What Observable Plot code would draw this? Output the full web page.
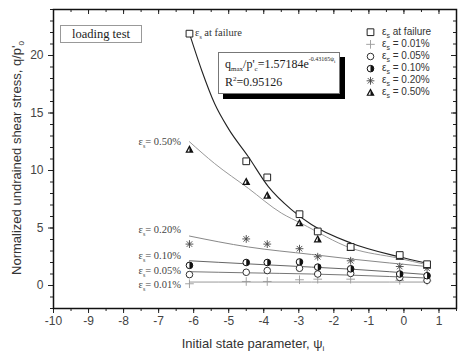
<!DOCTYPE html>
<html><head><meta charset="utf-8">
<script src="https://cdn.jsdelivr.net/npm/d3@7"></script>
<script src="https://cdn.jsdelivr.net/npm/@observablehq/plot@0.6"></script>
<style>
body{margin:0;background:#fff;}
#wrap{position:relative;width:474px;height:358px;overflow:hidden;}
.ov{position:absolute;white-space:nowrap;line-height:1;}
.serif{font-family:"Liberation Serif","Times New Roman",serif;}
.sans{font-family:"Liberation Sans",Arial,sans-serif;}
sub,sup{line-height:0;}
</style></head><body><div id="wrap"></div>
<script>
// ---- data ----
const psi = [-6.12, -4.5, -3.9, -2.98, -2.46, -1.52, -0.12, 0.66];
const failure = [21.9, 10.8, 9.4, 6.2, 4.7, 3.35, 2.65, 1.85];
const e050 = [11.8, 9.0, 7.8, 5.4, 4.0, 3.25, 2.5, 1.75];
const e020 = [3.6, 4.05, 3.6, 3.2, 2.5, 2.15, 1.65, 1.5];
const e010 = [1.75, 2.0, 2.0, 2.05, 1.6, 1.45, 1.0, 0.85];
const e005 = [0.95, 1.15, 1.3, 1.5, 1.0, 1.05, 0.7, 0.45];
const e001 = [0.15, 0.35, 0.35, 0.5, 0.55, 0.55, 0.45, 0.4];

// fitted curves
const fitFailX = [-6.12, -5.77, -5.4, -5.0, -4.44, -3.87, -3.21, -2.64, -1.5, -0.17, 0.66];
const fitFailY = [21.9, 18.7, 15.8, 13.6, 11.2, 8.6, 6.6, 5.3, 3.68, 2.52, 1.94];
const fit050X = [-6.12, -5.4, -4.44, -3.5, -2.93, -1.5, -0.17, 0.66];
const fit050Y = [12.5, 10.6, 8.45, 6.3, 5.4, 3.24, 2.38, 1.8];
const fitLowX = [-6.12, -4.44, -2.64, -1.5, 0.66];
const fit020Y = [4.3, 3.35, 2.7, 2.3, 1.65];
const fit010Y = [2.15, 1.88, 1.6, 1.42, 0.95];
const fit005Y = [1.2, 1.1, 1.0, 0.9, 0.65];
const fit001Y = [0.3, 0.3, 0.3, 0.3, 0.3];

const seriesNames = ["at failure", "= 0.01%", "= 0.05%", "= 0.10%", "= 0.20%", "= 0.50%"];
const curveLabels = ["= 0.50%", "= 0.20%", "= 0.10%", "= 0.05%", "= 0.01%"];
const xTicks = [-10, -9, -8, -7, -6, -5, -4, -3, -2, -1, 0, 1];
const xMinor = d3.range(-10, 1.51, 0.5);
const yTicks = [0, 5, 10, 15, 20];
const yMinor = d3.range(-2, 24.01, 1);

// ---- custom symbols ----
const halfCircle = {draw(ctx, size) { const r = Math.sqrt(size / Math.PI); ctx.moveTo(0, -r); ctx.arc(0, 0, r, -Math.PI / 2, Math.PI / 2); ctx.closePath(); }};
const triFull = {draw(ctx, size) { const r = Math.sqrt(size / Math.PI); const h = 2.3 * r, w = 2.5 * r; ctx.moveTo(0, -h * 0.6); ctx.lineTo(w / 2, h * 0.4); ctx.lineTo(-w / 2, h * 0.4); ctx.closePath(); }};
const triHalf = {draw(ctx, size) { const r = Math.sqrt(size / Math.PI); const h = 2.3 * r, w = 2.5 * r; ctx.moveTo(0, -h * 0.6); ctx.lineTo(w / 2, h * 0.4); ctx.lineTo(0, h * 0.4); ctx.closePath(); }};
const star8 = {draw(ctx, size) { const r = Math.sqrt(size / Math.PI); const d = r * Math.SQRT1_2;
  ctx.moveTo(-r, 0); ctx.lineTo(r, 0); ctx.moveTo(0, -r); ctx.lineTo(0, r);
  ctx.moveTo(-d, -d); ctx.lineTo(d, d); ctx.moveTo(-d, d); ctx.lineTo(d, -d); }};

const rows = (ys) => psi.map((x, i) => ({x, y: ys[i]}));
const fitRows = (xs, ys) => xs.map((x, i) => ({x, y: ys[i]}));

// styles per series (legend order)
const styles = [
  [{symbol: "square", r: 3.8, stroke: "#222", fill: "white", strokeWidth: 1}],
  [{symbol: "plus", r: 2.9, stroke: "#9a9a9a", fill: "none", strokeWidth: 0.9}],
  [{symbol: "circle", r: 3.3, stroke: "#333", fill: "white", strokeWidth: 1}],
  [{symbol: "circle", r: 3.3, stroke: "#111", fill: "white", strokeWidth: 1}, {symbol: halfCircle, r: 3.3, stroke: "none", fill: "#111"}],
  [{symbol: star8, r: 3.9, stroke: "#444", fill: "none", strokeWidth: 0.9}],
  [{symbol: triFull, r: 2.5, stroke: "#111", fill: "white", strokeWidth: 1.2}, {symbol: triHalf, r: 2.5, stroke: "none", fill: "#111"}]
];
const seriesData = [failure, e001, e005, e010, e020, e050];
const fmt = d => String(d);

const marks = [
  // axes
  Plot.axisX({ticks: xTicks, tickSize: 5, tickPadding: 3, tickFormat: fmt, label: null, fill: "#444"}),
  Plot.axisX({ticks: xMinor, tickSize: 3, tickFormat: () => "", label: null}),
  Plot.axisX({anchor: "bottom", frameAnchor: "top", ticks: xTicks, tickSize: 5, tickFormat: () => "", label: null}),
  Plot.axisX({anchor: "bottom", frameAnchor: "top", ticks: xMinor, tickSize: 3, tickFormat: () => "", label: null}),
  Plot.axisY({ticks: yTicks, tickSize: 5, tickPadding: 5, tickFormat: fmt, label: null, fill: "#444"}),
  Plot.axisY({ticks: yMinor, tickSize: 3, tickFormat: () => "", label: null}),
  Plot.axisY({anchor: "left", frameAnchor: "right", ticks: yTicks, tickSize: 5, tickFormat: () => "", label: null}),
  Plot.axisY({anchor: "left", frameAnchor: "right", ticks: yMinor, tickSize: 3, tickFormat: () => "", label: null}),
  // fitted curves
  Plot.line(fitRows(fitLowX, fit001Y), {x: "x", y: "y", stroke: "#999", strokeWidth: 1, curve: "monotone-x"}),
  Plot.line(fitRows(fitLowX, fit005Y), {x: "x", y: "y", stroke: "#777", strokeWidth: 1, curve: "monotone-x"}),
  Plot.line(fitRows(fitLowX, fit010Y), {x: "x", y: "y", stroke: "#666", strokeWidth: 1, curve: "monotone-x"}),
  Plot.line(fitRows(fitLowX, fit020Y), {x: "x", y: "y", stroke: "#888", strokeWidth: 1, curve: "monotone-x"}),
  Plot.line(fitRows(fit050X, fit050Y), {x: "x", y: "y", stroke: "#999", strokeWidth: 1, curve: "monotone-x"}),
  Plot.line(fitRows(fitFailX, fitFailY), {x: "x", y: "y", stroke: "#222", strokeWidth: 1.1, curve: "monotone-x"})
];
// data points (draw low strains first)
[1, 2, 3, 4, 5, 0].forEach(k => {
  styles[k].forEach(s => marks.push(Plot.dot(rows(seriesData[k]), {x: "x", y: "y", ...s})));
});
// legend symbols
styles.forEach((st, i) => st.forEach(s => marks.push(Plot.dot([0], {frameAnchor: "top-right", dx: -86, dy: 22.7 + 12.15 * i, ...s}))));
marks.push(Plot.frame({stroke: "#111", strokeWidth: 1.5}));

const chart = Plot.plot({
  width: 474, height: 358,
  marginLeft: 53, marginRight: 18, marginTop: 9, marginBottom: 50,
  x: {domain: [-10, 1.5]},
  y: {domain: [-2, 24]},
  style: {fontFamily: "'Liberation Sans', Arial, sans-serif", fontSize: "12px", color: "#222", background: "white"},
  marks
});
const wrap = document.getElementById("wrap");
wrap.appendChild(chart);
const sx = chart.scale("x"), sy = chart.scale("y");

function ov(html, cls, css) {
  const d = document.createElement("div");
  d.className = "ov " + cls;
  d.innerHTML = html;
  Object.assign(d.style, css);
  wrap.appendChild(d);
  return d;
}
// legend labels
seriesNames.forEach((name, i) => ov(`ε<sub style="font-size:7px">s</sub> ${name}`, "sans", {left: "382px", top: (9 + 22.7 + 12.15 * i) + "px", transform: "translateY(-50%)", fontSize: "10px", color: "#333"}));

// curve labels
const curveStarts = [fit050Y[0], fit020Y[0], fit010Y[0], fit005Y[0], fit001Y[0]];
const labelDy = [1, -6, -4, 0, 3];
curveLabels.forEach((lab, i) => ov(`ε<sub style="font-size:6px">s</sub>${lab}`, "serif", {left: (sx.apply(fitLowX[0]) - 8) + "px", top: (sy.apply(curveStarts[i]) + labelDy[i]) + "px", transform: "translate(-100%,-50%)", fontSize: "10.5px", color: "#444"}));
// failure label
ov(`ε<sub style="font-size:6px">s</sub> at failure`, "serif", {left: (sx.apply(psi[0]) + 6) + "px", top: sy.apply(failure[0]) + "px", transform: "translateY(-50%)", fontSize: "10.5px", color: "#333"});

// loading test box
ov("loading test", "serif", {left: "60px", top: "25px", width: "80px", height: "16px", border: "1px solid #999", fontSize: "12.5px", color: "#222", display: "flex", alignItems: "center", justifyContent: "center", background: "white"});
// equation box
ov(`<div style="margin-bottom:6px">q<sub style="font-size:7px">max</sub>/p'<sub style="font-size:7px">c</sub>=1.57184e<sup style="font-size:6px;vertical-align:7px">-0.43165ψ<sub style="font-size:5px">i</sub></sup></div><div>R<sup style="font-size:7px;vertical-align:5px">2</sup>=0.95126</div>`, "serif", {left: "218px", top: "52px", width: "114px", height: "32px", padding: "5px 0 3px 6px", border: "1px solid #777", background: "white", boxShadow: "5px 5px 0 #000", fontSize: "12px", color: "#222"});

// axis titles
ov(`Initial state parameter, ψ<sub style="font-size:8px">i</sub>`, "sans", {left: "253px", top: "343px", transform: "translate(-50%,-50%)", fontSize: "13px", color: "#333"});
ov(`Normalized undrained shear stress, q/p'<sub style="font-size:8px">0</sub>`, "sans", {left: "16px", top: "158px", transform: "translate(-50%,-50%) rotate(-90deg)", fontSize: "13px", color: "#333"});
</script></body></html>
